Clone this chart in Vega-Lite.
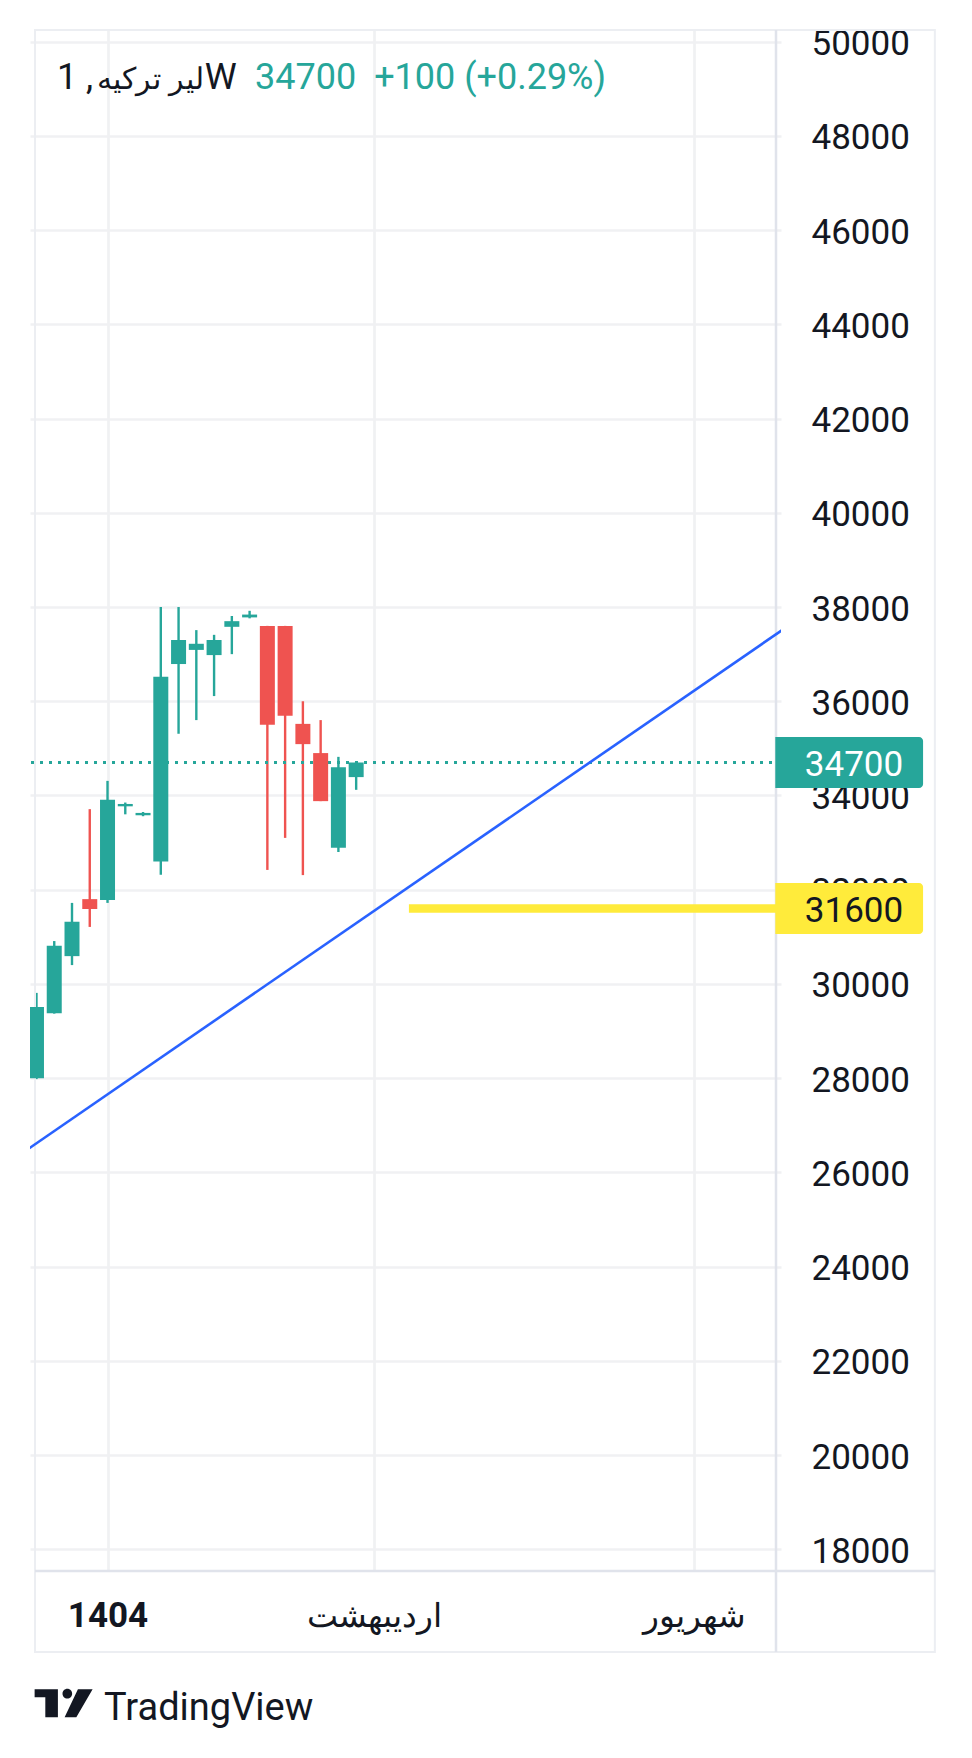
{
  "$schema": "https://vega.github.io/schema/vega-lite/v6.json",
  "width": 751,
  "height": 1541,
  "autosize": "none",
  "padding": {"left": 30, "top": 30, "right": 191, "bottom": 187},
  "background": "white",
  "datasets": {
    "candles": [
      {"i": 0, "open": 28000, "high": 29810, "low": 27980, "close": 29510},
      {"i": 1, "open": 29380, "high": 30910, "low": 29370, "close": 30810},
      {"i": 2, "open": 30590, "high": 31720, "low": 30400, "close": 31320},
      {"i": 3, "open": 31800, "high": 33710, "low": 31210, "close": 31590},
      {"i": 4, "open": 31780, "high": 34310, "low": 31720, "close": 33910},
      {"i": 5, "open": 33770, "high": 33850, "low": 33600, "close": 33820},
      {"i": 6, "open": 33580, "high": 33650, "low": 33560, "close": 33630},
      {"i": 7, "open": 32600, "high": 38000, "low": 32320, "close": 36520},
      {"i": 8, "open": 36790, "high": 38000, "low": 35310, "close": 37300},
      {"i": 9, "open": 37090, "high": 37510, "low": 35600, "close": 37220},
      {"i": 10, "open": 36980, "high": 37410, "low": 36110, "close": 37300},
      {"i": 11, "open": 37580, "high": 37810, "low": 37000, "close": 37700},
      {"i": 12, "open": 37780, "high": 37920, "low": 37760, "close": 37840},
      {"i": 13, "open": 37600, "high": 37600, "low": 32420, "close": 35500},
      {"i": 14, "open": 37600, "high": 37600, "low": 33100, "close": 35690},
      {"i": 15, "open": 35520, "high": 36000, "low": 32310, "close": 35090},
      {"i": 16, "open": 34900, "high": 35600, "low": 33880, "close": 33880},
      {"i": 17, "open": 32890, "high": 34820, "low": 32800, "close": 34600},
      {"i": 18, "open": 34390, "high": 34720, "low": 34120, "close": 34700}
    ],
    "trend": [
      {"i": -1, "p": 26359},
      {"i": 42, "p": 37515}
    ]
  },
  "layer": [
    {
      "data": {"name": "candles"},
      "mark": {"type": "rule", "strokeWidth": 2.4, "clip": true},
      "encoding": {
        "x": {
          "field": "i",
          "type": "quantitative",
          "title": null,
          "scale": {"domain": [-0.0833, 41.639], "nice": false, "zero": false},
          "axis": {
            "values": [4, 19, 37],
            "labelExpr": "datum.value == 4 ? '1404' : datum.value == 19 ? 'اردیبهشت' : 'شهریور'",
            "grid": true,
            "gridColor": "#f0f1f3",
            "gridWidth": 2.7,
            "domain": false,
            "ticks": false,
            "tickSize": 0,
            "labelPadding": 55,
            "labelBaseline": "alphabetic",
            "labelFontSize": {"condition": {"test": "datum.value == 4", "value": 35}, "value": 33},
            "labelFont": "Roboto",
            "labelColor": "#131722",
            "labelFontWeight": {"condition": {"test": "datum.value == 4", "value": "bold"}, "value": "normal"},
            "labelFlush": false,
            "labelOverlap": false,
            "labelBound": false
          }
        },
        "y": {
          "field": "low",
          "type": "quantitative",
          "title": null,
          "scale": {"domain": [17539, 50248], "nice": false, "zero": false},
          "axis": {
            "orient": "right",
            "values": [18000, 20000, 22000, 24000, 26000, 28000, 30000, 32000, 34000, 36000, 38000, 40000, 42000, 44000, 46000, 48000, 50000],
            "format": "d",
            "grid": true,
            "gridColor": "#f0f1f3",
            "gridWidth": 2.7,
            "domain": false,
            "ticks": false,
            "tickSize": 0,
            "labelPadding": 30,
            "labelAlign": "left",
            "labelBaseline": "middle",
            "labelOffset": 2,
            "labelFontSize": 35,
            "labelFont": "Roboto",
            "labelColor": "#131722",
            "labelFlush": false,
            "labelOverlap": false
          }
        },
        "y2": {"field": "high"},
        "color": {"condition": {"test": "datum.close >= datum.open", "value": "#26a69a"}, "value": "#ef5350"}
      }
    },
    {
      "data": {"values": [{}]},
      "mark": {"type": "rect", "fill": "transparent", "stroke": "#eceef2", "strokeWidth": 2, "clip": false},
      "encoding": {
        "x": {"datum": -0.0833},
        "x2": {"datum": 50.583},
        "y": {"datum": 50248},
        "y2": {"datum": 15820}
      }
    },
    {
      "data": {"values": [{}]},
      "mark": {"type": "rule", "color": "#e0e3eb", "strokeWidth": 2.5, "clip": false},
      "encoding": {
        "x": {"datum": 41.639},
        "y": {"datum": 50248},
        "y2": {"datum": 15820}
      }
    },
    {
      "data": {"values": [{}]},
      "mark": {"type": "rule", "color": "#e0e3eb", "strokeWidth": 2.5, "clip": false},
      "encoding": {
        "y": {"datum": 17539},
        "x": {"datum": -0.0833},
        "x2": {"datum": 50.583}
      }
    },
    {
      "data": {"values": [{}]},
      "mark": {"type": "rule", "color": "#26a69a", "strokeWidth": 3, "strokeDash": [3, 6]},
      "encoding": {
        "y": {"datum": 34700}
      }
    },
    {
      "data": {"name": "trend"},
      "mark": {"type": "line", "color": "#2962ff", "strokeWidth": 2.6, "clip": true},
      "encoding": {
        "x": {"field": "i", "type": "quantitative"},
        "y": {"field": "p", "type": "quantitative"}
      }
    },
    {
      "data": {"values": [{}]},
      "mark": {"type": "rule", "color": "#ffeb3b", "strokeWidth": 8.5, "strokeCap": "butt", "clip": true},
      "encoding": {
        "x": {"datum": 20.97},
        "x2": {"datum": 42},
        "y": {"datum": 31600}
      }
    },
    {
      "data": {"name": "candles"},
      "mark": {"type": "bar", "width": 15, "clip": true},
      "encoding": {
        "x": {"field": "i", "type": "quantitative"},
        "y": {"field": "open", "type": "quantitative"},
        "y2": {"field": "close"},
        "color": {"condition": {"test": "datum.close >= datum.open", "value": "#26a69a"}, "value": "#ef5350"}
      }
    },
    {
      "data": {"values": [{}]},
      "mark": {"type": "rect", "fill": "#26a69a", "cornerRadiusTopRight": 4, "cornerRadiusBottomRight": 4, "clip": false},
      "encoding": {
        "x": {"datum": 41.6},
        "x2": {"datum": 49.92},
        "y": {"datum": 35241},
        "y2": {"datum": 34159}
      }
    },
    {
      "data": {"values": [{}]},
      "mark": {"type": "rect", "fill": "#ffeb3b", "cornerRadiusTopRight": 4, "cornerRadiusBottomRight": 4, "clip": false},
      "encoding": {
        "x": {"datum": 41.6},
        "x2": {"datum": 49.92},
        "y": {"datum": 32141},
        "y2": {"datum": 31059}
      }
    },
    {
      "data": {"values": [{}]},
      "mark": {"type": "text", "font": "Roboto", "fontSize": 35, "color": "#ffffff", "align": "center", "baseline": "middle", "dy": 2, "clip": false},
      "encoding": {
        "x": {"datum": 46.03},
        "y": {"datum": 34700},
        "text": {"value": "34700"}
      }
    },
    {
      "data": {"values": [{}]},
      "mark": {"type": "text", "font": "Roboto", "fontSize": 35, "color": "#131722", "align": "center", "baseline": "middle", "dy": 2, "clip": false},
      "encoding": {
        "x": {"datum": 46.03},
        "y": {"datum": 31600},
        "text": {"value": "31600"}
      }
    },
    {
      "data": {"values": [{}]},
      "mark": {"type": "text", "font": "Roboto", "fontSize": 36, "color": "#131722", "align": "left", "baseline": "alphabetic"},
      "encoding": {
        "x": {"datum": 1.15},
        "y": {"datum": 48990},
        "text": {"value": "1 ,"}
      }
    },
    {
      "data": {"values": [{}]},
      "mark": {"type": "text", "font": "Roboto", "fontSize": 30, "color": "#131722", "align": "right", "baseline": "alphabetic"},
      "encoding": {
        "x": {"datum": 9.42},
        "y": {"datum": 48990},
        "text": {"value": "لیر ترکیه"}
      }
    },
    {
      "data": {"values": [{}]},
      "mark": {"type": "text", "font": "Roboto", "fontSize": 36, "color": "#131722", "align": "left", "baseline": "alphabetic"},
      "encoding": {
        "x": {"datum": 9.47},
        "y": {"datum": 48990},
        "text": {"value": "W"}
      }
    },
    {
      "data": {"values": [{}]},
      "mark": {"type": "text", "font": "Roboto", "fontSize": 36, "color": "#26a69a", "align": "left", "baseline": "alphabetic"},
      "encoding": {
        "x": {"datum": 12.31},
        "y": {"datum": 48990},
        "text": {"value": "34700\u00a0\u00a0+100 (+0.29%)"}
      }
    },
    {
      "data": {"values": [{}]},
      "mark": {
        "type": "point",
        "filled": true,
        "opacity": 1,
        "color": "#131722",
        "strokeWidth": 0,
        "size": 3364,
        "clip": false,
        "shape": "M-1,-0.483H-0.197V0.483H-0.631V-0.207H-1Z M-0.038,-0.331a0.166,0.166 0 1 0 0.332,0a0.166,0.166 0 1 0 -0.332,0Z M0.493,-0.483H1L0.438,0.483H0.034Z"
      },
      "encoding": {
        "x": {"datum": 1.528},
        "y": {"datum": 14732}
      }
    },
    {
      "data": {"values": [{}]},
      "mark": {"type": "text", "font": "Roboto", "fontSize": 38, "color": "#131722", "align": "left", "baseline": "alphabetic", "clip": false},
      "encoding": {
        "x": {"datum": 3.806},
        "y": {"datum": 14377},
        "text": {"value": "TradingView"}
      }
    }
  ],
  "config": {
    "view": {"stroke": null},
    "font": "Roboto"
  }
}
